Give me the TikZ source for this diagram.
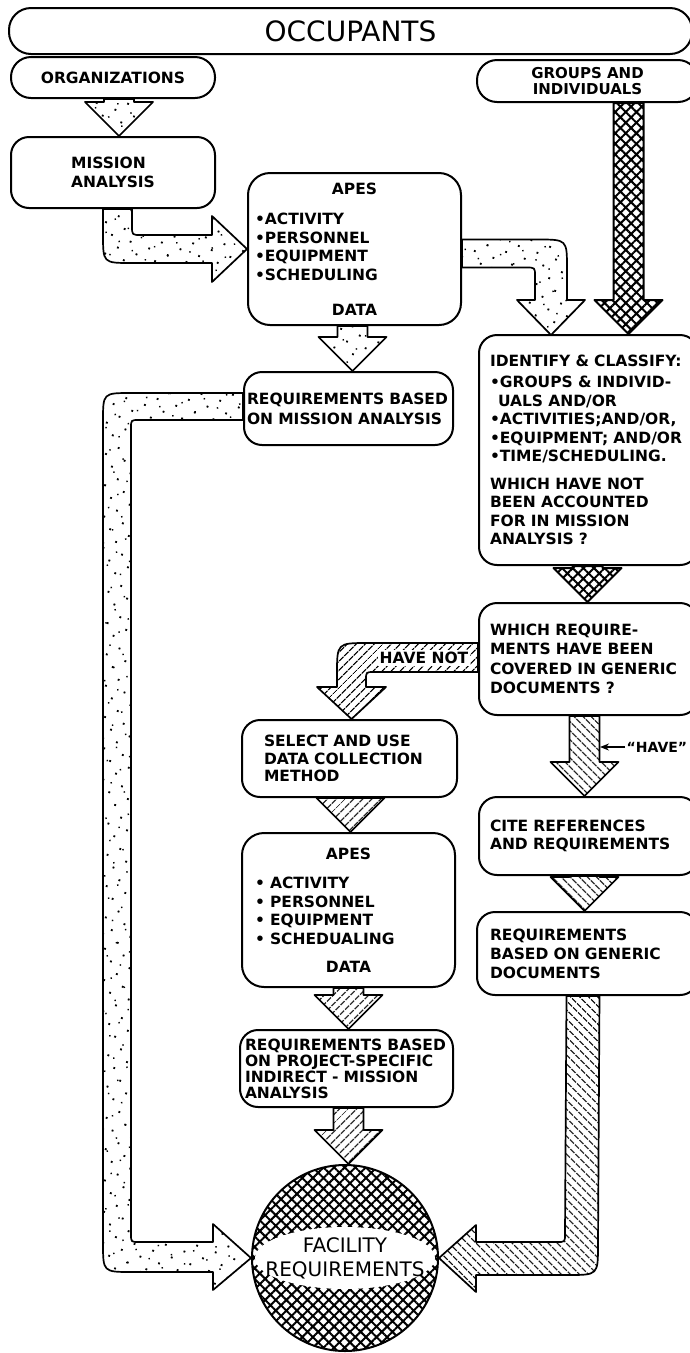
\documentclass[tikz,border=0pt]{standalone}
\usepackage{fontspec}
\setmainfont{DejaVu Sans}
\usetikzlibrary{calc,arrows.meta,patterns.meta}
\newcommand{\lettering}{\fontsize{15.5pt}{18.5pt}\selectfont\bfseries}
\newcommand{\titlelettering}{\fontsize{28pt}{32pt}\selectfont}
\newcommand{\faclettering}{\fontsize{20pt}{24pt}\selectfont}
% straight block arrow from the bottom of #2 down to the top of #3
\newcommand{\fatdown}[4]{%
  \path[#1] let \p1=($(#2.south)+(#4,0)$), \p2=(#3.north) in
    (\x1-15pt,\y1) -- (\x1-15pt,\y2+34pt) -- (\x1-34pt,\y2+34pt) -- (\x1,\y2)
    -- (\x1+34pt,\y2+34pt) -- (\x1+15pt,\y2+34pt) -- (\x1+15pt,\y1) -- cycle;}

\begin{document}
\begin{tikzpicture}[x=1pt,y=-1pt,
    box/.style={draw,line width=2pt,rounded corners=18pt,font=\lettering,align=left},
    pill/.style={box,rounded corners=20pt,align=center},
    stipple/.style={draw,line width=1.7pt,line join=round,
      pattern={Dots[radius=1.3pt,distance=14pt,angle=25]},
      postaction={pattern={Dots[radius=1pt,distance=16pt,angle=-35,xshift=5pt]}}},
    fwdhatch/.style={draw,line width=1.7pt,line join=round,
      pattern={Lines[angle=45,distance=6.5pt,line width=1.5pt]}},
    backhatch/.style={draw,line width=1.7pt,line join=round,
      pattern={Lines[angle=-45,distance=6.5pt,line width=1.5pt]}},
    mesh/.style={draw,line width=2pt,line join=round,
      pattern={Hatch[angle=45,distance=7.5pt,line width=2pt]}},
    tag/.style={font=\lettering,inner sep=1.5pt}
  ]
  \path[use as bounding box,fill=white] (0,0) rectangle (689,1353);

  % top row
  \node[pill,minimum width=683pt,minimum height=46pt,rounded corners=22pt,font=\titlelettering] (occ) at (350.5,31) {OCCUPANTS};
  \node[pill,minimum width=204pt,minimum height=41pt] (org) at (113,77.5) {ORGANIZATIONS};
  \node[pill,minimum width=221pt,minimum height=42pt,font=\fontsize{15pt}{16pt}\selectfont\bfseries] (grp) at (587.5,81) {GROUPS AND\\INDIVIDUALS};

  % left and middle column
  \node[box,minimum width=204pt,minimum height=71pt] (mission) at (113,172.5) {MISSION\\ANALYSIS};
  \node[box,rounded corners=22pt,text width=199pt,inner xsep=7pt,minimum height=152pt] (apesA) at (354.5,249)
    {\centerline{APES}\\[12pt]•ACTIVITY\\•PERSONNEL\\•EQUIPMENT\\•SCHEDULING\\[17pt]\centerline{DATA}};
  \node[box,text width=203pt,inner xsep=3pt,minimum height=73pt] (reqM) at (348.5,408.5)
    {REQUIREMENTS BASED\\[1.5pt]ON MISSION ANALYSIS};
  \node[box,text width=171pt,inner xsep=22pt,minimum height=77pt,font=\fontsize{15.5pt}{17.5pt}\selectfont\bfseries] (select) at (349.5,758.5)
    {SELECT AND USE\\DATA COLLECTION\\METHOD};
  \node[box,rounded corners=22pt,text width=187pt,inner xsep=13pt,minimum height=154pt] (apesB) at (348.5,910)
    {\centerline{APES}\\[11pt]• ACTIVITY\\• PERSONNEL\\• EQUIPMENT\\• SCHEDUALING\\[10pt]\centerline{DATA}};
  \node[box,text width=203pt,inner xsep=5pt,minimum height=77pt,font=\fontsize{15.5pt}{16pt}\selectfont\bfseries] (reqP) at (346.5,1068.5)
    {REQUIREMENTS BASED\\ON PROJECT-SPECIFIC\\INDIRECT - MISSION\\ANALYSIS};

  % right column
  \node[box,text width=197pt,inner xsep=11pt,minimum height=230pt] (ident) at (588.5,450)
    {IDENTIFY \& CLASSIFY:\\[3pt]•GROUPS \& INDIVID-\\\hspace*{8pt}UALS AND/OR\\•ACTIVITIES;AND/OR,\\•EQUIPMENT; AND/OR\\•TIME/SCHEDULING.\\[9pt]WHICH HAVE NOT\\BEEN ACCOUNTED\\FOR IN MISSION\\ANALYSIS ?};
  \node[box,text width=197pt,inner xsep=11pt,minimum height=112pt,font=\fontsize{15.5pt}{19.5pt}\selectfont\bfseries] (which) at (588.5,659)
    {WHICH REQUIRE-\\MENTS HAVE BEEN\\COVERED IN GENERIC\\DOCUMENTS ?};
  \node[box,text width=197pt,inner xsep=11pt,minimum height=78pt] (cite) at (588.5,836)
    {CITE REFERENCES\\AND REQUIREMENTS};
  \node[box,text width=195pt,inner xsep=13pt,minimum height=83pt,font=\fontsize{15.5pt}{19pt}\selectfont\bfseries] (reqG) at (587.5,953.5)
    {REQUIREMENTS\\BASED ON GENERIC\\DOCUMENTS};

  % goal
  \node[circle,minimum size=186pt,mesh,font=\faclettering,align=center,inner sep=0pt,
    path picture={\fill[white] (path picture bounding box.center) ellipse (90pt and 31pt);}] (fac) at (345,1258)
    {FACILITY\\REQUIREMENTS};

  % straight block arrows
  \fatdown{stipple}{org}{mission}{6}
  \fatdown{mesh}{grp}{ident}{41}
  \fatdown{stipple}{apesA}{reqM}{-2}
  \fatdown{mesh}{ident}{which}{-1}
  \fatdown{backhatch}{which}{cite}{-4}
  \fatdown{fwdhatch}{select}{apesB}{1}
  \fatdown{backhatch}{cite}{reqG}{-4}
  \fatdown{fwdhatch}{apesB}{reqP}{0}
  \fatdown{fwdhatch}{reqP}{fac}{2}

  % bent block arrows
  \path[stipple] ([xshift=-10pt]mission.south) -- (103,234) .. controls (103,263) .. (131,263)
    -- (212,263) -- (212,282) -- (apesA.west) -- (212,216) -- (212,235) -- (141,235)
    .. controls (132,235) .. (132,226) -- ([xshift=19pt]mission.south) -- cycle;
  \path[stipple] ([yshift=9.5pt]apesA.east) -- (538,239.5) .. controls (567,239.5) .. (567,268.5)
    -- (567,300) -- (585,300) -- (551,335) -- (517,300) -- (535,300) -- (535,276)
    .. controls (535,267.5) .. (526,267.5) -- ([yshift=-18.5pt]apesA.east) -- cycle;
  \path[stipple] ([yshift=15.5pt]reqM.west) -- (131,393) .. controls (103,393) .. (103,421)
    -- (103,1243) .. controls (103,1272) .. (132,1272) -- (213,1272) -- (213,1290) -- (fac.west)
    -- (213,1224) -- (213,1242) -- (139,1242) .. controls (131,1242) .. (131,1234)
    -- (131,428) .. controls (131,420) .. (139,420) -- ([yshift=-11.5pt]reqM.west) -- cycle;
  \path[fwdhatch] ([yshift=16pt]which.west) -- (368,643) .. controls (337,643) .. (337,674)
    -- (337,687) -- (317,687) -- ([xshift=2pt]select.north) -- (386,687) -- (366,687)
    -- (366,680) .. controls (366,672) .. (374,672) -- ([yshift=-13pt]which.west) -- cycle;
  \path[backhatch] ([xshift=-21pt]reqG.south) -- ([xshift=12pt]reqG.south) -- (598,1245)
    .. controls (598,1275) .. (568,1275) -- (476,1275) -- (476,1292) -- (fac.east)
    -- (476,1225) -- (476,1242) -- (557,1242) .. controls (565,1242) .. (565,1234) -- cycle;

  % labels on the arrows
  \node[tag,fill=white,inner ysep=2pt] (havenot) at (424,658) {HAVE NOT};
  \node[tag,anchor=west,font=\fontsize{14pt}{16pt}\selectfont\bfseries] (havelbl) at (625,747) {“HAVE”};
  \coordinate (haveend) at (600,747);
  \draw[line width=1.3pt,-{Stealth[length=9pt,width=7pt]}] (havelbl.west) -- (haveend);
\end{tikzpicture}
\end{document}
